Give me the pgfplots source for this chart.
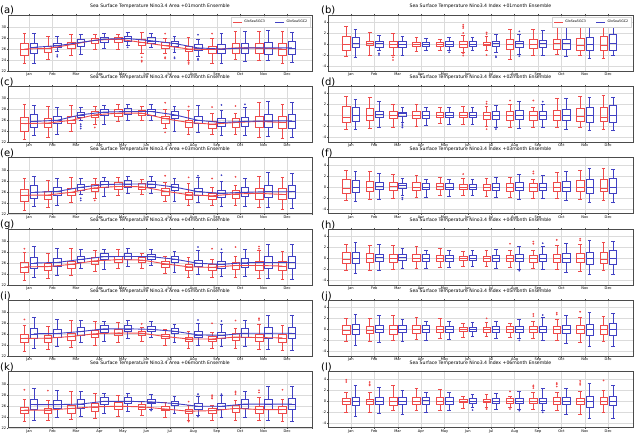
\documentclass[border=0pt]{standalone}
\usepackage{fontspec}
\setmainfont{DejaVu Sans}
\usepackage{pgfplots}
\pgfplotsset{compat=1.18}
\usepgfplotslibrary{statistics}
\definecolor{boxred}{RGB}{238,75,75}
\definecolor{boxblue}{RGB}{65,65,195}
\newcommand{\Rbx}[6]{\addplot[boxred, line width=0.45pt, boxplot prepared={draw position=#1-0.2, lower whisker=#2, lower quartile=#3, median=#4, upper quartile=#5, upper whisker=#6}] coordinates {};}
\newcommand{\Bbx}[6]{\addplot[boxblue, line width=0.45pt, boxplot prepared={draw position=#1+0.2, lower whisker=#2, lower quartile=#3, median=#4, upper quartile=#5, upper whisker=#6}] coordinates {};}
\pgfplotsset{
  panelbase/.style={
    scale only axis, width=304pt, height=56pt, anchor=north west,
    xmax=13.06,
    xtick={1,...,12}, xticklabels={Jan,Feb,Mar,Apr,May,Jun,Jul,Aug,Sep,Oct,Nov,Dec},
    grid=major, major grid style={gray!28, line width=0.35pt},
    axis line style={gray!60!black, line width=0.45pt},
    tick label style={font=\fontsize{3.6}{4}\selectfont, /pgf/number format/assume math mode=true, inner sep=0.5pt},
    major tick length=1.2pt, tick align=outside, tick style={gray!60!black, line width=0.35pt},
    title style={font=\fontsize{4.6}{5}\selectfont, inner sep=0.3pt},
    boxplot/draw direction=y,
    boxplot/box extend=0.32, boxplot/whisker extend=0.16,
  },
  leftpanel/.style={panelbase, xmin=0.1, ymin=22, ymax=32.18, ytick={22,24,...,30}},
  rightpanel/.style={panelbase, width=305pt, xmin=0.02, ymin=-4.9, ymax=5.28, ytick={-4,-2,...,4}},
  outR/.style={only marks, boxred, mark=*, mark size=0.65pt},
  outB/.style={only marks, boxblue, mark=*, mark size=0.65pt},
  medR/.style={boxred, line width=0.9pt},
  medB/.style={boxblue, line width=0.9pt},
  legstyle/.style={legend style={at={(0.995,0.96)}, anchor=north east, legend columns=2, font=\fontsize{3.3}{4}\selectfont, draw=gray!35, fill=white, inner sep=1pt, /tikz/every even column/.append style={column sep=8pt}}, legend cell align=left},
}
\begin{document}
\begin{tikzpicture}
\path[use as bounding box] (0pt,0pt) rectangle (640pt,-437pt);
\foreach \lab/\xx/\yy in {(a)/0/10,(b)/321/10,(c)/0/82.3,(d)/321/82.3,(e)/0/153.7,(f)/321/153.7,(g)/0/225,(h)/321/225,(i)/0/296.3,(j)/321/296.3,(k)/0/367.7,(l)/321/367.7}
  \node[anchor=west, inner sep=0pt, font=\fontsize{10}{11}\selectfont] at (\xx pt,-\yy pt) {\lab};

%% (a)
\begin{axis}[leftpanel, at={(8pt,-15pt)}, title={Sea Surface Temperature Nino3.4 Area +01month Ensemble}, legstyle,
  legend image code/.code={\draw[#1] (0pt,0pt) -- (9pt,0pt);}]
\addlegendimage{boxred, line width=0.6pt}\addlegendentry{GloSea5GC3}
\addlegendimage{boxblue, line width=0.6pt}\addlegendentry{GloSea5GC2}
\Rbx{1}{23.4}{24.9}{26.0}{27.1}{28.9}\Bbx{1}{23.5}{25.2}{26.3}{27.1}{28.8}
\Rbx{2}{24.2}{25.5}{26.1}{26.5}{28.4}\Bbx{2}{25.6}{26.4}{26.6}{27.0}{28.4}
\Rbx{3}{24.8}{26.2}{26.8}{27.3}{28.6}\Bbx{3}{25.0}{26.5}{27.2}{27.7}{28.6}
\Rbx{4}{25.9}{27.1}{27.6}{28.0}{28.7}\Bbx{4}{26.1}{27.2}{27.8}{28.2}{28.9}
\Rbx{5}{26.0}{27.3}{27.8}{28.1}{28.7}\Bbx{5}{26.6}{27.4}{27.9}{28.3}{29.0}
\Rbx{6}{25.3}{26.7}{27.2}{27.7}{29.0}\Bbx{6}{26.4}{27.1}{27.5}{28.1}{28.9}
\Rbx{7}{25.2}{26.1}{26.6}{27.3}{28.0}\Bbx{7}{25.4}{26.5}{27.0}{27.45}{28.3}
\Rbx{8}{23.9}{25.6}{26.0}{26.5}{28.2}\Bbx{8}{24.7}{25.75}{26.2}{26.8}{27.8}
\Rbx{9}{23.4}{25.3}{25.9}{26.5}{28.0}\Bbx{9}{23.5}{25.3}{26.0}{26.8}{28.9}
\Rbx{10}{24.2}{25.3}{26.2}{27.1}{29.2}\Bbx{10}{23.8}{25.2}{26.2}{27.1}{29.2}
\Rbx{11}{24.0}{25.2}{26.2}{27.1}{29.2}\Bbx{11}{23.9}{25.0}{26.2}{27.3}{29.4}
\Rbx{12}{23.45}{24.9}{26.0}{27.1}{29.2}\Bbx{12}{23.6}{25.0}{26.2}{27.45}{29.1}
\addplot[outR] coordinates {(5.8,24.5)(5.8,23.9)(5.8,23.7)(6.8,28.8)(6.8,24.5)(6.8,24.3)(7.8,23.6)(7.8,23.3)(8.8,28.8)};
\addplot[outB] coordinates {(2.2,24.9)(2.2,24.6)(5.2,26.3)(7.2,24.5)(7.2,24.3)(8.2,28.6)(8.2,24.2)(8.2,24.0)};
\addplot[medR] coordinates {(0.8,26.0)(1.8,26.1)(2.8,26.8)(3.8,27.6)(4.8,27.8)(5.8,27.2)(6.8,26.6)(7.8,26.0)(8.8,25.9)(9.8,26.2)(10.8,26.2)(11.8,26.0)};
\addplot[medB] coordinates {(1.2,26.3)(2.2,26.6)(3.2,27.2)(4.2,27.8)(5.2,27.9)(6.2,27.5)(7.2,27.0)(8.2,26.2)(9.2,26.0)(10.2,26.2)(11.2,26.2)(12.2,26.2)};
\end{axis}

%% (b)
\begin{axis}[rightpanel, at={(328pt,-15pt)}, title={Sea Surface Temperature Nino3.4 Index +01month Ensemble}, legstyle,
  legend image code/.code={\draw[#1] (0pt,0pt) -- (9pt,0pt);}]
\addlegendimage{boxred, line width=0.6pt}\addlegendentry{GloSea5GC3}
\addlegendimage{boxblue, line width=0.6pt}\addlegendentry{GloSea5GC2}
\Rbx{1}{-2.3}{-1.2}{-0.1}{1.5}{3.2}\Bbx{1}{-2.4}{-0.6}{0.1}{1.2}{2.7}
\Rbx{2}{-2.0}{-0.3}{0.1}{0.6}{2.1}\Bbx{2}{-1.2}{-0.5}{0.1}{0.6}{1.6}
\Rbx{3}{-2.1}{-0.5}{0.0}{0.5}{2.0}\Bbx{3}{-2.0}{-0.6}{0.0}{0.6}{1.5}
\Rbx{4}{-1.3}{-0.4}{0.0}{0.4}{1.3}\Bbx{4}{-1.2}{-0.4}{0.0}{0.3}{1.1}
\Rbx{5}{-1.2}{-0.4}{0.0}{0.4}{0.9}\Bbx{5}{-1.2}{-0.4}{0.0}{0.5}{1.2}
\Rbx{6}{-1.4}{-0.5}{0.0}{0.5}{1.6}\Bbx{6}{-1.2}{-0.4}{0.0}{0.5}{1.3}
\Rbx{7}{-1.2}{-0.3}{0.0}{0.4}{1.5}\Bbx{7}{-1.5}{-0.4}{0.1}{0.6}{1.8}
\Rbx{8}{-2.7}{-0.9}{0.0}{0.9}{2.7}\Bbx{8}{-1.8}{-0.5}{0.1}{0.6}{1.7}
\Rbx{9}{-2.1}{-0.8}{0.0}{0.8}{2.7}\Bbx{9}{-2.1}{-0.6}{0.1}{0.7}{2.6}
\Rbx{10}{-1.8}{-0.9}{0.1}{0.9}{3.0}\Bbx{10}{-2.3}{-0.9}{0.1}{0.9}{3.0}
\Rbx{11}{-2.1}{-1.1}{-0.2}{1.1}{3.2}\Bbx{11}{-2.6}{-1.2}{0.0}{1.2}{3.2}
\Rbx{12}{-2.6}{-1.2}{-0.2}{1.5}{3.2}\Bbx{12}{-2.1}{-1.1}{0.1}{1.8}{3.0}
\addplot[outR] coordinates {(2.8,-2.4)(2.8,-2.9)(5.8,3.5)(5.8,3.2)(5.8,2.9)(5.8,2.0)(5.8,-1.7)(5.8,-2.1)(6.8,2.1)(6.8,1.8)(6.8,-2.0)};
\addplot[outB] coordinates {(2.2,-1.7)(2.2,-2.0)(5.2,-1.5)(7.2,-2.2)(7.2,-2.4)(8.2,2.3)(8.2,-2.2)};
\end{axis}

%% (c)
\begin{axis}[leftpanel, at={(8pt,-86.3pt)}, title={Sea Surface Temperature Nino3.4 Area +02month Ensemble}]
\Rbx{1}{22.5}{24.1}{25.4}{26.6}{28.9}\Bbx{1}{23.3}{24.7}{25.8}{27.1}{28.8}
\Rbx{2}{23.0}{24.7}{25.5}{26.3}{28.5}\Bbx{2}{23.5}{25.4}{26.0}{26.7}{28.4}
\Rbx{3}{24.1}{25.5}{26.0}{26.75}{28.7}\Bbx{3}{26.0}{26.6}{27.0}{27.4}{28.4}
\Rbx{4}{25.3}{26.5}{27.0}{27.6}{28.5}\Bbx{4}{25.2}{26.9}{27.5}{28.1}{28.8}
\Rbx{5}{25.9}{26.8}{27.3}{28.0}{29.0}\Bbx{5}{26.0}{27.1}{27.6}{28.2}{29.0}
\Rbx{6}{26.0}{26.9}{27.3}{27.9}{28.6}\Bbx{6}{26.0}{26.9}{27.6}{28.1}{29.0}
\Rbx{7}{24.5}{25.5}{26.3}{26.75}{28.0}\Bbx{7}{24.1}{26.3}{27.0}{27.6}{28.6}
\Rbx{8}{23.5}{24.7}{25.6}{26.0}{27.9}\Bbx{8}{23.9}{25.4}{26.0}{26.7}{28.8}
\Rbx{9}{23.5}{24.6}{25.3}{25.9}{27.2}\Bbx{9}{23.3}{24.9}{25.6}{26.3}{27.9}
\Rbx{10}{23.5}{24.7}{25.6}{26.3}{27.3}\Bbx{10}{23.3}{25.0}{25.8}{26.6}{28.4}
\Rbx{11}{23.0}{24.7}{25.8}{26.75}{29.2}\Bbx{11}{23.1}{24.8}{25.9}{27.1}{29.5}
\Rbx{12}{22.8}{24.5}{25.6}{26.75}{29.0}\Bbx{12}{22.9}{24.6}{25.9}{27.1}{29.2}
\addplot[outR] coordinates {(3.8,24.7)(6.8,29.2)(6.8,23.8)(7.8,28.5)(8.8,28.4)(9.8,28.6)};
\addplot[outB] coordinates {(3.2,25.3)(3.2,24.9)(3.2,24.5)(9.2,28.8)(10.2,28.9)};
\addplot[medR] coordinates {(0.8,25.4)(1.8,25.5)(2.8,26.0)(3.8,27.0)(4.8,27.3)(5.8,27.3)(6.8,26.3)(7.8,25.6)(8.8,25.3)(9.8,25.6)(10.8,25.8)(11.8,25.6)};
\addplot[medB] coordinates {(1.2,25.8)(2.2,26.0)(3.2,27.0)(4.2,27.5)(5.2,27.6)(6.2,27.6)(7.2,27.0)(8.2,26.0)(9.2,25.6)(10.2,25.8)(11.2,25.9)(12.2,25.9)};
\end{axis}

%% (d)
\begin{axis}[rightpanel, at={(328pt,-86.3pt)}, title={Sea Surface Temperature Nino3.4 Index +02month Ensemble}]
\Rbx{1}{-2.5}{-1.3}{-0.3}{1.7}{3.5}\Bbx{1}{-2.5}{-1.0}{0.0}{1.4}{2.9}
\Rbx{2}{-2.4}{-0.9}{0.0}{1.3}{3.3}\Bbx{2}{-2.2}{-0.4}{0.2}{0.8}{2.5}
\Rbx{3}{-2.1}{-0.5}{0.1}{0.8}{2.0}\Bbx{3}{-1.3}{-0.2}{0.3}{0.6}{1.5}
\Rbx{4}{-1.9}{-0.5}{0.0}{0.8}{2.0}\Bbx{4}{-1.8}{-0.5}{0.0}{0.7}{1.4}
\Rbx{5}{-1.5}{-0.4}{0.1}{0.6}{1.5}\Bbx{5}{-1.6}{-0.4}{0.0}{0.6}{1.4}
\Rbx{6}{-1.6}{-0.4}{0.0}{0.5}{1.7}\Bbx{6}{-1.6}{-0.4}{0.0}{0.5}{1.5}
\Rbx{7}{-1.9}{-0.7}{0.0}{0.5}{1.7}\Bbx{7}{-2.1}{-0.7}{0.0}{0.7}{1.8}
\Rbx{8}{-2.2}{-0.9}{0.0}{0.8}{2.0}\Bbx{8}{-2.4}{-0.7}{0.0}{0.9}{2.5}
\Rbx{9}{-2.2}{-0.9}{0.0}{0.7}{1.4}\Bbx{9}{-2.1}{-0.7}{0.0}{0.8}{2.0}
\Rbx{10}{-2.2}{-0.9}{0.0}{0.9}{3.1}\Bbx{10}{-2.5}{-0.9}{0.0}{1.1}{3.1}
\Rbx{11}{-2.2}{-1.0}{-0.2}{1.3}{3.5}\Bbx{11}{-2.7}{-1.2}{0.0}{1.4}{3.3}
\Rbx{12}{-2.5}{-1.0}{-0.3}{1.5}{3.7}\Bbx{12}{-2.7}{-1.2}{0.0}{1.8}{3.3}
\addplot[outR] coordinates {(6.8,2.5)(6.8,2.1)(6.8,-2.5)(7.8,2.7)(8.8,2.7)};
\addplot[outB] coordinates {(3.2,-1.6)(3.2,-1.9)(3.2,-2.2)(7.2,-2.5)(9.2,2.5)};
\end{axis}

%% (e)
\begin{axis}[leftpanel, at={(8pt,-157.7pt)}, title={Sea Surface Temperature Nino3.4 Area +03month Ensemble}]
\Rbx{1}{22.65}{24.2}{25.35}{26.4}{28.5}\Bbx{1}{23.3}{24.9}{25.9}{27.1}{28.9}
\Rbx{2}{23.1}{24.7}{25.4}{26.1}{28.1}\Bbx{2}{23.6}{25.4}{26.05}{26.8}{28.5}
\Rbx{3}{24.0}{25.3}{25.9}{26.6}{28.7}\Bbx{3}{25.5}{26.35}{26.8}{27.3}{28.45}
\Rbx{4}{24.9}{26.1}{26.7}{27.3}{28.45}\Bbx{4}{25.1}{26.75}{27.3}{27.95}{28.7}
\Rbx{5}{25.45}{26.45}{26.95}{27.65}{28.7}\Bbx{5}{25.75}{26.9}{27.4}{28.0}{28.8}
\Rbx{6}{25.55}{26.5}{26.9}{27.5}{28.2}\Bbx{6}{25.8}{26.75}{27.4}{27.9}{28.8}
\Rbx{7}{24.35}{25.4}{26.1}{26.55}{27.65}\Bbx{7}{24.25}{26.25}{26.85}{27.4}{28.4}
\Rbx{8}{23.5}{24.7}{25.45}{25.85}{27.45}\Bbx{8}{24.0}{25.4}{26.0}{26.6}{28.55}
\Rbx{9}{23.5}{24.6}{25.25}{25.8}{26.9}\Bbx{9}{23.45}{25.0}{25.7}{26.3}{27.9}
\Rbx{10}{23.5}{24.75}{25.6}{26.25}{27.2}\Bbx{10}{23.45}{25.15}{25.9}{26.75}{28.45}
\Rbx{11}{23.1}{24.7}{25.7}{26.55}{28.8}\Bbx{11}{23.15}{24.95}{26.0}{27.1}{29.5}
\Rbx{12}{22.9}{24.55}{25.5}{26.55}{28.55}\Bbx{12}{23.0}{24.8}{26.0}{27.2}{29.3}
\addplot[outR] coordinates {(3.8,24.4)(6.8,28.9)(7.8,28.6)(8.8,28.4)(9.8,28.7)};
\addplot[outB] coordinates {(3.2,24.8)(3.2,24.4)(8.2,28.9)(9.2,29.0)};
\addplot[medR] coordinates {(0.8,25.35)(1.8,25.4)(2.8,25.9)(3.8,26.7)(4.8,26.95)(5.8,26.9)(6.8,26.1)(7.8,25.45)(8.8,25.25)(9.8,25.6)(10.8,25.7)(11.8,25.5)};
\addplot[medB] coordinates {(1.2,25.9)(2.2,26.05)(3.2,26.8)(4.2,27.3)(5.2,27.4)(6.2,27.4)(7.2,26.85)(8.2,26.0)(9.2,25.7)(10.2,25.9)(11.2,26.0)(12.2,26.0)};
\end{axis}

%% (f)
\begin{axis}[rightpanel, at={(328pt,-157.7pt)}, title={Sea Surface Temperature Nino3.4 Index +03month Ensemble}]
\Rbx{1}{-2.4}{-1.15}{-0.25}{1.4}{3.0}\Bbx{1}{-2.6}{-1.0}{0.0}{1.2}{2.9}
\Rbx{2}{-2.3}{-0.8}{0.0}{1.05}{2.85}\Bbx{2}{-2.2}{-0.5}{0.15}{0.8}{2.5}
\Rbx{3}{-2.0}{-0.6}{0.1}{0.8}{2.2}\Bbx{3}{-1.6}{-0.3}{0.2}{0.6}{1.6}
\Rbx{4}{-1.9}{-0.55}{0.0}{0.8}{2.1}\Bbx{4}{-1.85}{-0.5}{0.0}{0.7}{1.4}
\Rbx{5}{-1.55}{-0.45}{0.1}{0.6}{1.65}\Bbx{5}{-1.65}{-0.45}{0.0}{0.6}{1.4}
\Rbx{6}{-1.55}{-0.4}{0.0}{0.45}{1.5}\Bbx{6}{-1.5}{-0.4}{0.0}{0.5}{1.45}
\Rbx{7}{-1.7}{-0.6}{0.0}{0.45}{1.55}\Bbx{7}{-1.95}{-0.6}{0.0}{0.65}{1.7}
\Rbx{8}{-1.9}{-0.8}{0.0}{0.7}{1.7}\Bbx{8}{-2.2}{-0.6}{0.0}{0.8}{2.3}
\Rbx{9}{-2.0}{-0.8}{0.0}{0.6}{1.4}\Bbx{9}{-2.0}{-0.65}{0.0}{0.7}{2.1}
\Rbx{10}{-2.1}{-0.85}{0.0}{0.8}{2.7}\Bbx{10}{-2.5}{-0.85}{0.0}{1.0}{2.9}
\Rbx{11}{-2.3}{-0.9}{-0.15}{1.1}{3.0}\Bbx{11}{-2.8}{-1.2}{0.0}{1.3}{3.3}
\Rbx{12}{-2.4}{-0.9}{-0.2}{1.3}{3.3}\Bbx{12}{-2.8}{-1.1}{0.0}{1.6}{3.2}
\addplot[outR] coordinates {(5.8,2.3)(8.8,2.8)(8.8,2.4)};
\addplot[outB] coordinates {(3.2,-2.0)(3.2,-2.3)};
\end{axis}

%% (g)
\begin{axis}[leftpanel, at={(8pt,-229pt)}, title={Sea Surface Temperature Nino3.4 Area +04month Ensemble}]
\Rbx{1}{22.8}{24.35}{25.3}{26.2}{28.05}\Bbx{1}{23.35}{25.05}{26.0}{27.1}{29.0}
\Rbx{2}{23.2}{24.65}{25.35}{25.95}{27.75}\Bbx{2}{23.7}{25.45}{26.1}{26.85}{28.6}
\Rbx{3}{23.85}{25.1}{25.75}{26.4}{28.65}\Bbx{3}{25.05}{26.1}{26.65}{27.25}{28.5}
\Rbx{4}{24.5}{25.75}{26.4}{27.0}{28.4}\Bbx{4}{24.95}{26.6}{27.15}{27.8}{28.55}
\Rbx{5}{25.0}{26.1}{26.6}{27.3}{28.45}\Bbx{5}{25.5}{26.75}{27.2}{27.85}{28.65}
\Rbx{6}{25.1}{26.15}{26.55}{27.1}{27.75}\Bbx{6}{25.65}{26.65}{27.15}{27.65}{28.55}
\Rbx{7}{24.2}{25.3}{25.85}{26.3}{27.3}\Bbx{7}{24.4}{26.2}{26.7}{27.25}{28.15}
\Rbx{8}{23.45}{24.7}{25.3}{25.7}{27.0}\Bbx{8}{24.05}{25.4}{25.95}{26.55}{28.3}
\Rbx{9}{23.45}{24.65}{25.2}{25.75}{26.65}\Bbx{9}{23.6}{25.1}{25.75}{26.35}{27.9}
\Rbx{10}{23.45}{24.8}{25.55}{26.2}{27.15}\Bbx{10}{23.6}{25.3}{26.05}{26.9}{28.5}
\Rbx{11}{23.15}{24.7}{25.55}{26.3}{28.35}\Bbx{11}{23.2}{25.1}{26.1}{27.15}{29.5}
\Rbx{12}{23.0}{24.6}{25.45}{26.3}{28.1}\Bbx{12}{23.05}{25.0}{26.1}{27.25}{29.35}
\addplot[outR] coordinates {(0.8,28.6)(8.8,28.6)(9.8,28.9)(10.8,29.0)(10.8,28.6)};
\addplot[outB] coordinates {(8.2,28.9)(9.2,28.5)};
\addplot[medR] coordinates {(0.8,25.3)(1.8,25.35)(2.8,25.75)(3.8,26.4)(4.8,26.6)(5.8,26.55)(6.8,25.85)(7.8,25.3)(8.8,25.2)(9.8,25.55)(10.8,25.55)(11.8,25.45)};
\addplot[medB] coordinates {(1.2,26.0)(2.2,26.1)(3.2,26.65)(4.2,27.15)(5.2,27.2)(6.2,27.15)(7.2,26.7)(8.2,25.95)(9.2,25.75)(10.2,26.05)(11.2,26.1)(12.2,26.1)};
\end{axis}

%% (h)
\begin{axis}[rightpanel, at={(328pt,-229pt)}, title={Sea Surface Temperature Nino3.4 Index +04month Ensemble}]
\Rbx{1}{-2.3}{-1.0}{-0.2}{1.1}{2.5}\Bbx{1}{-2.7}{-0.95}{0.0}{1.05}{2.85}
\Rbx{2}{-2.2}{-0.75}{-0.05}{0.8}{2.4}\Bbx{2}{-2.25}{-0.55}{0.1}{0.75}{2.5}
\Rbx{3}{-1.95}{-0.7}{0.05}{0.75}{2.4}\Bbx{3}{-1.9}{-0.45}{0.15}{0.65}{1.75}
\Rbx{4}{-1.85}{-0.6}{0.0}{0.75}{2.15}\Bbx{4}{-1.9}{-0.55}{0.05}{0.7}{1.45}
\Rbx{5}{-1.6}{-0.5}{0.05}{0.6}{1.8}\Bbx{5}{-1.7}{-0.5}{0.0}{0.6}{1.45}
\Rbx{6}{-1.5}{-0.35}{0.0}{0.4}{1.3}\Bbx{6}{-1.4}{-0.4}{0.0}{0.45}{1.35}
\Rbx{7}{-1.5}{-0.5}{0.0}{0.4}{1.4}\Bbx{7}{-1.8}{-0.55}{0.0}{0.6}{1.6}
\Rbx{8}{-1.65}{-0.65}{0.0}{0.6}{1.45}\Bbx{8}{-1.95}{-0.55}{0.0}{0.7}{2.1}
\Rbx{9}{-1.85}{-0.7}{0.0}{0.55}{1.45}\Bbx{9}{-1.95}{-0.6}{0.0}{0.65}{2.15}
\Rbx{10}{-2.0}{-0.8}{0.0}{0.75}{2.3}\Bbx{10}{-2.5}{-0.8}{0.0}{0.9}{2.7}
\Rbx{11}{-2.35}{-0.8}{-0.1}{0.9}{2.6}\Bbx{11}{-2.9}{-1.15}{0.0}{1.15}{3.25}
\Rbx{12}{-2.3}{-0.85}{-0.15}{1.05}{2.85}\Bbx{12}{-2.9}{-1.05}{0.0}{1.35}{3.1}
\addplot[outR] coordinates {(7.8,2.6)(8.8,3.0)(8.8,2.6)(9.8,3.3)(10.8,3.5)(10.8,3.2)};
\addplot[outB] coordinates {(8.2,-2.3)(9.2,2.7)};
\end{axis}

%% (i)
\begin{axis}[leftpanel, at={(8pt,-300.3pt)}, title={Sea Surface Temperature Nino3.4 Area +05month Ensemble}]
\Rbx{1}{22.95}{24.5}{25.25}{25.95}{27.6}\Bbx{1}{23.4}{25.2}{26.1}{27.1}{29.1}
\Rbx{2}{23.3}{24.6}{25.3}{25.8}{27.4}\Bbx{2}{23.8}{25.5}{26.15}{26.9}{28.65}
\Rbx{3}{23.7}{24.9}{25.6}{26.25}{28.6}\Bbx{3}{24.6}{25.85}{26.5}{27.2}{28.55}
\Rbx{4}{24.1}{25.4}{26.1}{26.7}{28.35}\Bbx{4}{24.8}{26.4}{27.0}{27.65}{28.4}
\Rbx{5}{24.55}{25.75}{26.25}{26.95}{28.2}\Bbx{5}{25.25}{26.6}{27.0}{27.7}{28.5}
\Rbx{6}{24.7}{25.8}{26.2}{26.65}{27.3}\Bbx{6}{25.5}{26.5}{26.9}{27.4}{28.3}
\Rbx{7}{24.05}{25.2}{25.6}{26.1}{26.95}\Bbx{7}{24.55}{26.15}{26.55}{27.05}{27.9}
\Rbx{8}{23.4}{24.7}{25.15}{25.55}{26.55}\Bbx{8}{24.1}{25.4}{25.9}{26.5}{28.05}
\Rbx{9}{23.4}{24.7}{25.15}{25.7}{26.4}\Bbx{9}{23.75}{25.2}{25.8}{26.4}{27.9}
\Rbx{10}{23.4}{24.85}{25.5}{26.15}{27.1}\Bbx{10}{23.75}{25.45}{26.2}{27.05}{28.55}
\Rbx{11}{23.25}{24.7}{25.4}{26.1}{27.9}\Bbx{11}{23.25}{25.25}{26.2}{27.2}{29.5}
\Rbx{12}{23.1}{24.65}{25.35}{26.1}{27.65}\Bbx{12}{23.15}{25.2}{26.2}{27.3}{29.4}
\addplot[outR] coordinates {(0.8,28.7)(5.8,27.9)(8.8,28.0)(9.8,28.5)(10.8,28.6)(10.8,28.9)};
\addplot[outB] coordinates {(8.2,28.6)(9.2,28.4)};
\addplot[medR] coordinates {(0.8,25.25)(1.8,25.3)(2.8,25.6)(3.8,26.1)(4.8,26.25)(5.8,26.2)(6.8,25.6)(7.8,25.15)(8.8,25.15)(9.8,25.5)(10.8,25.4)(11.8,25.35)};
\addplot[medB] coordinates {(1.2,26.1)(2.2,26.15)(3.2,26.5)(4.2,27.0)(5.2,27.0)(6.2,26.9)(7.2,26.55)(8.2,25.9)(9.2,25.8)(10.2,26.2)(11.2,26.2)(12.2,26.2)};
\end{axis}

%% (j)
\begin{axis}[rightpanel, at={(328pt,-300.3pt)}, title={Sea Surface Temperature Nino3.4 Index +05month Ensemble}]
\Rbx{1}{-2.2}{-0.85}{-0.15}{0.8}{2.0}\Bbx{1}{-2.8}{-0.9}{0.0}{0.9}{2.8}
\Rbx{2}{-2.1}{-0.65}{-0.1}{0.55}{1.95}\Bbx{2}{-2.3}{-0.6}{0.05}{0.7}{2.5}
\Rbx{3}{-1.9}{-0.8}{0.0}{0.7}{2.6}\Bbx{3}{-2.2}{-0.6}{0.05}{0.7}{1.9}
\Rbx{4}{-1.8}{-0.65}{0.0}{0.7}{2.2}\Bbx{4}{-1.95}{-0.6}{0.1}{0.7}{1.5}
\Rbx{5}{-1.65}{-0.55}{0.0}{0.6}{1.95}\Bbx{5}{-1.75}{-0.55}{0.0}{0.6}{1.5}
\Rbx{6}{-1.4}{-0.3}{0.0}{0.35}{1.1}\Bbx{6}{-1.3}{-0.4}{0.0}{0.4}{1.25}
\Rbx{7}{-1.3}{-0.45}{0.0}{0.4}{1.25}\Bbx{7}{-1.65}{-0.45}{0.0}{0.55}{1.45}
\Rbx{8}{-1.4}{-0.5}{0.0}{0.5}{1.2}\Bbx{8}{-1.7}{-0.45}{0.0}{0.6}{1.9}
\Rbx{9}{-1.7}{-0.6}{0.0}{0.5}{1.5}\Bbx{9}{-1.9}{-0.55}{0.0}{0.55}{2.2}
\Rbx{10}{-1.9}{-0.75}{0.0}{0.65}{1.9}\Bbx{10}{-2.5}{-0.75}{0.0}{0.8}{2.5}
\Rbx{11}{-2.4}{-0.7}{-0.05}{0.7}{2.15}\Bbx{11}{-3.0}{-1.1}{0.0}{1.0}{3.2}
\Rbx{12}{-2.2}{-0.8}{-0.05}{0.8}{2.4}\Bbx{12}{-3.0}{-1.0}{0.0}{1.1}{3.0}
\addplot[outR] coordinates {(6.8,2.0)(8.8,2.8)(8.8,2.4)(9.8,3.0)(9.8,2.7)(10.8,3.2)};
\addplot[outB] coordinates {(9.2,2.6)(8.2,-2.0)};
\end{axis}

%% (k)
\begin{axis}[leftpanel, at={(8pt,-371.7pt)}, title={Sea Surface Temperature Nino3.4 Area +06month Ensemble}]
\Rbx{1}{23.1}{24.6}{25.2}{25.75}{27.2}\Bbx{1}{23.4}{25.4}{26.2}{27.1}{29.2}
\Rbx{2}{23.4}{24.6}{25.2}{25.6}{27.0}\Bbx{2}{23.9}{25.5}{26.2}{27.0}{28.75}
\Rbx{3}{23.6}{24.7}{25.5}{26.1}{28.6}\Bbx{3}{24.1}{25.6}{26.3}{27.1}{28.6}
\Rbx{4}{23.75}{25.0}{25.8}{26.4}{28.3}\Bbx{4}{24.7}{26.25}{26.8}{27.5}{28.3}
\Rbx{5}{24.1}{25.4}{25.9}{26.6}{27.9}\Bbx{5}{25.0}{26.4}{26.8}{27.5}{28.3}
\Rbx{6}{24.25}{25.4}{25.8}{26.25}{26.9}\Bbx{6}{25.3}{26.4}{26.7}{27.2}{28.1}
\Rbx{7}{23.9}{25.1}{25.4}{25.9}{26.6}\Bbx{7}{24.7}{26.1}{26.4}{26.9}{27.7}
\Rbx{8}{23.4}{24.7}{25.0}{25.4}{26.1}\Bbx{8}{24.2}{25.4}{25.9}{26.4}{27.8}
\Rbx{9}{23.4}{24.7}{25.1}{25.6}{26.1}\Bbx{9}{23.9}{25.3}{25.9}{26.4}{27.9}
\Rbx{10}{23.4}{24.9}{25.5}{26.1}{27.0}\Bbx{10}{23.9}{25.6}{26.3}{27.2}{28.6}
\Rbx{11}{23.3}{24.7}{25.3}{25.9}{27.5}\Bbx{11}{23.3}{25.4}{26.3}{27.2}{29.5}
\Rbx{12}{23.2}{24.7}{25.3}{25.9}{27.2}\Bbx{12}{23.2}{25.4}{26.3}{27.4}{29.5}
\addplot[outR] coordinates {(0.8,28.9)(1.8,28.75)(7.8,26.75)(7.8,23.1)(8.8,27.3)(8.8,27.6)(8.8,27.9)(9.8,28.1)(9.8,28.4)(9.8,28.6)(10.8,28.4)(10.8,28.8)(11.8,28.9)};
\addplot[outB] coordinates {(6.2,25.1)(8.2,28.1)(8.2,24.0)(9.2,28.1)};
\addplot[medR] coordinates {(0.8,25.2)(1.8,25.2)(2.8,25.5)(3.8,25.8)(4.8,25.9)(5.8,25.8)(6.8,25.4)(7.8,25.0)(8.8,25.1)(9.8,25.5)(10.8,25.3)(11.8,25.3)};
\addplot[medB] coordinates {(1.2,26.2)(2.2,26.2)(3.2,26.3)(4.2,26.8)(5.2,26.8)(6.2,26.7)(7.2,26.4)(8.2,25.9)(9.2,25.9)(10.2,26.3)(11.2,26.3)(12.2,26.3)};
\end{axis}

%% (l)
\begin{axis}[rightpanel, at={(328pt,-371.7pt)}, title={Sea Surface Temperature Nino3.4 Index +06month Ensemble}]
\Rbx{1}{-2.1}{-0.7}{-0.1}{0.5}{1.5}\Bbx{1}{-2.9}{-0.9}{0.0}{0.7}{2.8}
\Rbx{2}{-2.0}{-0.6}{-0.1}{0.3}{1.5}\Bbx{2}{-2.3}{-0.7}{0.0}{0.7}{2.5}
\Rbx{3}{-1.8}{-0.9}{0.0}{0.7}{2.8}\Bbx{3}{-2.5}{-0.7}{0.0}{0.7}{2.0}
\Rbx{4}{-1.8}{-0.7}{0.0}{0.7}{2.3}\Bbx{4}{-2.0}{-0.6}{0.1}{0.7}{1.5}
\Rbx{5}{-1.7}{-0.6}{0.0}{0.6}{2.1}\Bbx{5}{-1.8}{-0.6}{0.0}{0.6}{1.5}
\Rbx{6}{-1.35}{-0.3}{0.0}{0.3}{0.9}\Bbx{6}{-1.2}{-0.4}{0.0}{0.4}{1.2}
\Rbx{7}{-1.1}{-0.35}{0.0}{0.35}{1.1}\Bbx{7}{-1.5}{-0.4}{0.0}{0.5}{1.35}
\Rbx{8}{-1.1}{-0.4}{0.0}{0.4}{0.9}\Bbx{8}{-1.5}{-0.4}{0.0}{0.5}{1.7}
\Rbx{9}{-1.5}{-0.5}{0.0}{0.4}{1.5}\Bbx{9}{-1.8}{-0.5}{0.0}{0.5}{2.3}
\Rbx{10}{-1.8}{-0.7}{0.0}{0.6}{1.5}\Bbx{10}{-2.5}{-0.7}{0.0}{0.7}{2.3}
\Rbx{11}{-2.5}{-0.6}{0.0}{0.5}{1.7}\Bbx{11}{-3.1}{-1.1}{0.0}{0.9}{3.2}
\Rbx{12}{-2.1}{-0.7}{0.0}{0.6}{2.0}\Bbx{12}{-3.1}{-0.9}{0.0}{0.9}{2.9}
\addplot[outR] coordinates {(0.8,3.8)(0.8,3.4)(1.8,3.4)(1.8,3.0)(1.8,2.8)(6.8,-1.5)(7.8,1.7)(7.8,-1.5)(8.8,2.3)(8.8,2.6)(8.8,2.8)(9.8,2.6)(9.8,3.0)(9.8,3.2)(10.8,2.9)(10.8,3.2)(10.8,3.6)(11.8,3.7)};
\addplot[outB] coordinates {(6.2,-1.7)(8.2,-1.8)(9.2,-2.1)};
\end{axis}
\end{tikzpicture}
\end{document}
